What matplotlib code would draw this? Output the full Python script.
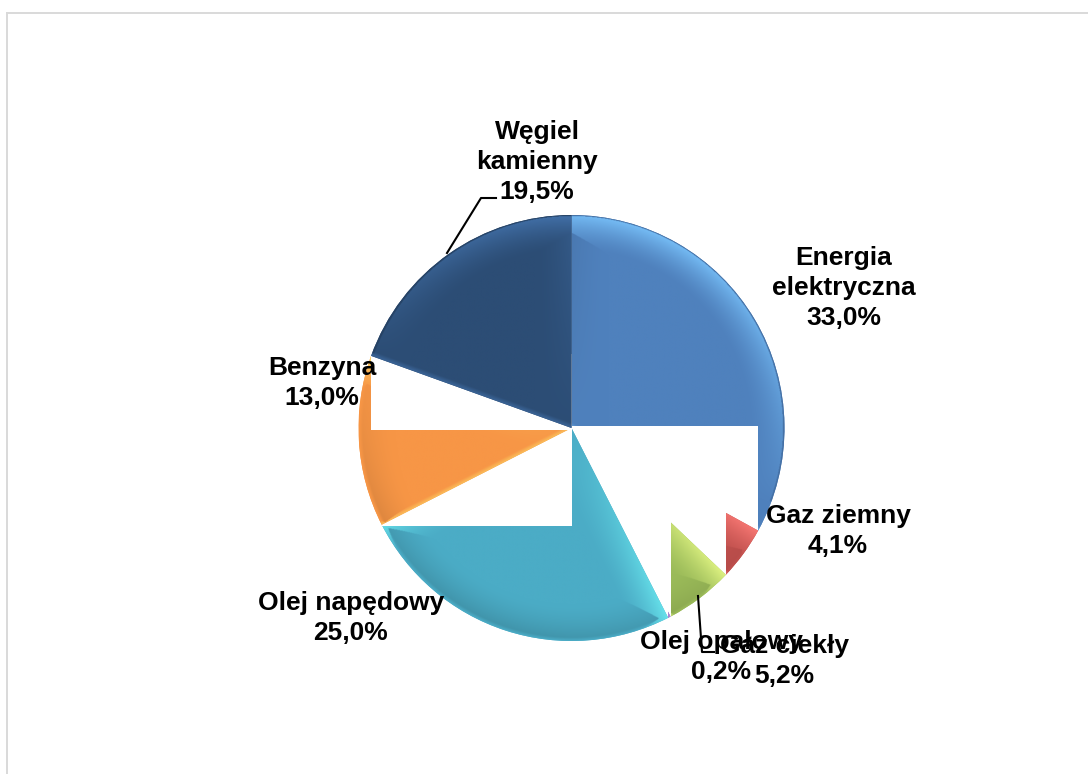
import numpy as np
import matplotlib
matplotlib.use("Agg")
import matplotlib.pyplot as plt
from matplotlib.colors import to_rgb
from matplotlib.patches import Rectangle

plt.rcParams['font.family'] = ['Liberation Sans', 'DejaVu Sans']

names = ["Energia\nelektryczna", "Gaz ziemny", "Gaz ciekły", "Olej opałowy",
         "Olej napędowy", "Benzyna", "Węgiel\nkamienny"]
values = [33.0, 4.1, 5.2, 0.2, 25.0, 13.0, 19.5]
colors = ["#4f81bd", "#c0504d", "#9bbb59", "#8064a2", "#4bacc6", "#f79646", "#2c4d75"]

W, H = 1088, 774
CX, CY, R = 571.5, 428, 213

# label centres in pixels
label_pos = [(844, 288), (838, 531), (784, 661), (721, 657), (351, 618), (322, 383), (537, 162)]


def px(x, y):
    return (x - CX) / R, (CY - y) / R


fig = plt.figure(figsize=(W / 100, H / 100), dpi=100)
ax = fig.add_axes([0, 0, 1, 1])

wedges, _ = ax.pie(values, colors=colors, startangle=90, counterclock=False, radius=1)
ax.set_aspect("equal")
ax.axis("off")

# grid for the bevel shading
n = 800
gx, gy = np.meshgrid(np.linspace(-1, 1, n), np.linspace(-1, 1, n))
rr = np.hypot(gx, gy) + 1e-9
light = np.array([0.35, 0.94])
BAND = 0.17


def edge_shade(a, nx, ny):
    # a straight side of a slice, stronger towards the rim
    dist = np.abs(gx * np.sin(a) - gy * np.cos(a))
    dot = nx * light[0] + ny * light[1]
    if dot > -0.5:
        return np.clip(1 - dist / BAND, 0, 1) ** 1.5 * dot * rr * 0.9
    return np.clip(1 - dist / 0.02, 0, 1) * 0.5


def bevel(w):
    a1, a2 = np.radians(w.theta1), np.radians(w.theta2)
    d_arc = 1 - rr
    dot = gx / rr * light[0] + gy / rr * light[1]
    arc = np.clip(1 - d_arc / BAND, 0, 1) ** 1.5 * np.where(dot > 0, dot * 0.9, dot * 0.7)
    # thin bright rim on the lower part of the circle
    rim = np.clip(1 - d_arc / 0.016, 0, 1) * np.clip(-dot, 0, 1) * 0.7
    e1 = edge_shade(a1, np.sin(a1), -np.cos(a1))
    e2 = edge_shade(a2, -np.sin(a2), np.cos(a2))
    parts = np.stack([arc + rim, e1, e2])
    pick = np.argmax(np.abs(parts), axis=0)
    s = np.take_along_axis(parts, pick[None], axis=0)[0]
    # dark outline on the upper part of the circle
    return np.where((d_arc < 0.008) & (dot > 0), -0.6, s)


for i, w in enumerate(wedges):
    w.set_zorder(2 * i + 1)
    base = np.array(to_rgb(w.get_facecolor()[:3]))
    bright = np.clip(base * 1.5 + 0.02, 0, 1)
    s = bevel(w)[..., None]
    img = np.where(s > 0, base + (bright - base) * s, base * (1 + s * 0.22))
    im = ax.imshow(img, extent=(-1, 1, -1, 1), origin="lower", zorder=2 * i + 1,
                   interpolation="bilinear", aspect="auto")
    im.set_clip_path(w)
    # the white box between the centre and the end of each slice
    end = np.radians(w.theta1)
    ex, ey = np.cos(end), np.sin(end)
    pad = 1.5 / R
    y0, y1 = min(0, ey) - pad, max(0, ey) + pad
    ax.add_patch(Rectangle((min(0, ex), y0), abs(ex), y1 - y0, fc="white", ec="none",
                           zorder=2 * i + 2))

ax.set_xlim(px(0, 0)[0], px(W, 0)[0])
ax.set_ylim(px(0, H)[1], px(0, 0)[1])

# leader lines
ax.plot(*zip(px(447, 253), px(481, 198), px(496, 198)), color="black", lw=1.5, zorder=30)
ax.plot(*zip(px(698, 596), px(702, 652), px(714, 652)), color="black", lw=1.5, zorder=30)

for name, v, (x, y) in zip(names, values, label_pos):
    txt = name + "\n" + f"{v:.1f}%".replace(".", ",")
    ax.text(*px(x, y), txt, ha="center", va="center", fontsize=19, fontweight="bold",
            linespacing=1.33, color="black", zorder=40)

# chart area border
fig.add_artist(plt.Line2D([7 / W, 7 / W], [0, 1 - 13 / H], color="#d9d9d9", lw=1.4))
fig.add_artist(plt.Line2D([7 / W, 1], [1 - 13 / H, 1 - 13 / H], color="#d9d9d9", lw=1.4))

fig.savefig("out.png", dpi=100, facecolor="white")
